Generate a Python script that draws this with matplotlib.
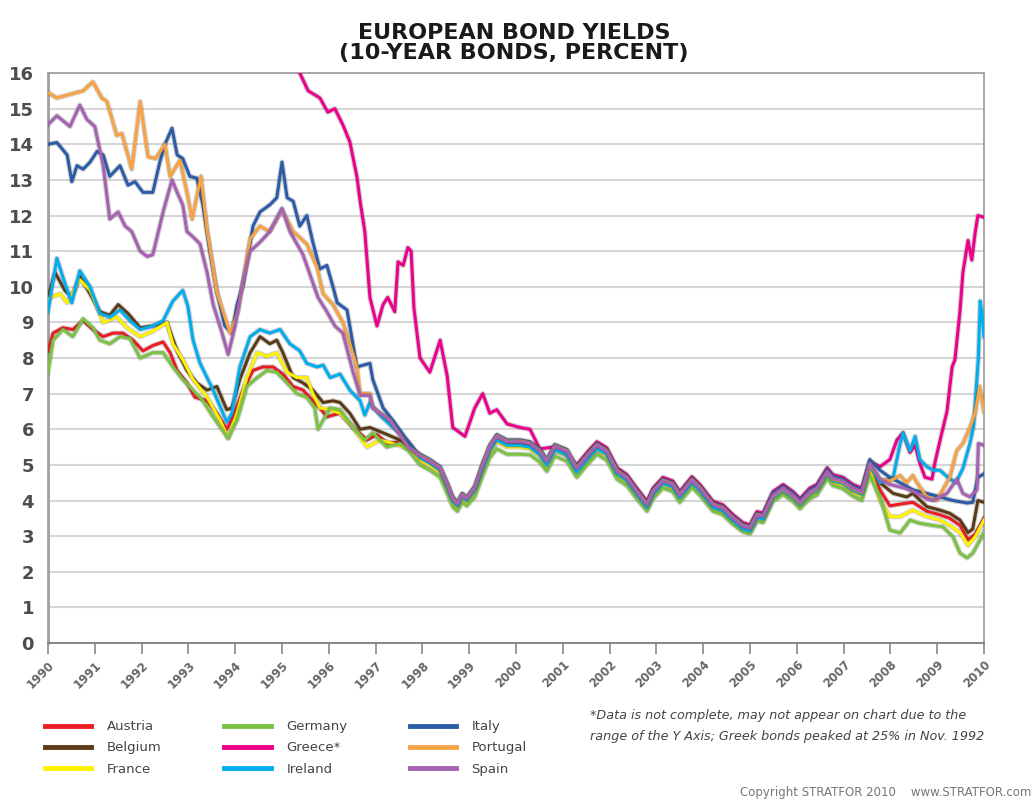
import matplotlib
matplotlib.use("Agg")
import matplotlib.pyplot as plt
import matplotlib.patheffects as pe
from matplotlib.lines import Line2D

# shared time points for the converged euro period (1998-2007)
BUNDLE_YEARS = [1997.95, 1998.16, 1998.38, 1998.53, 1998.65, 1998.75, 1998.85, 1998.95,
                1999.12, 1999.29, 1999.44, 1999.59, 1999.81, 2000.09, 2000.30, 2000.51,
                2000.66, 2000.83, 2001.09, 2001.30, 2001.52, 2001.73, 2001.94, 2002.16,
                2002.37, 2002.58, 2002.80, 2002.93, 2003.14, 2003.35, 2003.50, 2003.76,
                2003.93, 2004.21, 2004.42, 2004.64, 2004.85, 2005.00, 2005.15, 2005.28,
                2005.49, 2005.71, 2005.92, 2006.07, 2006.28, 2006.43, 2006.65, 2006.77,
                2006.99, 2007.20, 2007.39, 2007.56]

AUSTRIA_EARLY = [(1990.00, 8.2), (1990.11, 8.7), (1990.32, 8.85), (1990.53, 8.8), (1990.75, 9.05),
                 (1990.96, 8.8), (1991.18, 8.6), (1991.39, 8.7), (1991.60, 8.7), (1991.82, 8.5),
                 (1992.03, 8.2), (1992.24, 8.35), (1992.46, 8.45), (1992.61, 8.15), (1992.76, 7.65),
                 (1992.97, 7.3), (1993.14, 6.9), (1993.40, 6.8), (1993.61, 6.45), (1993.82, 6.0),
                 (1993.95, 6.35), (1994.17, 7.1), (1994.38, 7.65), (1994.59, 7.75), (1994.81, 7.75),
                 (1995.02, 7.55), (1995.24, 7.2), (1995.45, 7.1), (1995.66, 6.8), (1995.81, 6.6),
                 (1995.96, 6.35), (1996.24, 6.45), (1996.52, 6.05), (1996.82, 5.7), (1997.03, 5.85),
                 (1997.26, 5.6), (1997.52, 5.65), (1997.70, 5.5)]
AUSTRIA_MID = [5.15, 5.0, 4.8, 4.35, 3.95, 3.8, 4.05, 3.95, 4.25, 4.9, 5.4, 5.7, 5.55, 5.55, 5.5,
               5.3, 5.02, 5.43, 5.3, 4.82, 5.15, 5.45, 5.3, 4.74, 4.55, 4.17, 3.8, 4.17, 4.47, 4.37,
               4.07, 4.49, 4.27, 3.8, 3.7, 3.42, 3.2, 3.14, 3.51, 3.47, 4.07, 4.27, 4.07, 3.87, 4.17,
               4.27, 4.74, 4.55, 4.47, 4.27, 4.17, 4.95]
AUSTRIA_LATE = [(2007.78, 4.3), (2007.99, 3.85), (2008.21, 3.9), (2008.48, 3.95), (2008.78, 3.7),
                (2009.06, 3.6), (2009.27, 3.5), (2009.49, 3.3), (2009.66, 2.9), (2009.81, 3.05),
                (2010.00, 3.5)]

BELGIUM_EARLY = [(1990.00, 9.7), (1990.15, 10.4), (1990.36, 9.9), (1990.51, 9.7), (1990.68, 10.3),
                 (1990.90, 9.8), (1991.11, 9.3), (1991.32, 9.2), (1991.50, 9.5), (1991.71, 9.25),
                 (1991.97, 8.85), (1992.24, 8.9), (1992.54, 9.0), (1992.76, 8.2), (1992.97, 7.65),
                 (1993.18, 7.3), (1993.40, 7.1), (1993.61, 7.2), (1993.82, 6.55), (1993.93, 6.6),
                 (1994.10, 7.4), (1994.32, 8.15), (1994.53, 8.6), (1994.74, 8.4), (1994.89, 8.5),
                 (1995.02, 8.15), (1995.24, 7.45), (1995.45, 7.3), (1995.66, 7.1), (1995.88, 6.75),
                 (1996.09, 6.8), (1996.24, 6.75), (1996.45, 6.45), (1996.67, 6.0), (1996.88, 6.05),
                 (1997.16, 5.9), (1997.52, 5.7), (1997.70, 5.6)]
BELGIUM_MID = [5.22, 5.07, 4.87, 4.42, 4.02, 3.87, 4.12, 4.02, 4.32, 4.97, 5.47, 5.77, 5.62, 5.62,
               5.57, 5.35, 5.07, 5.49, 5.35, 4.87, 5.22, 5.52, 5.35, 4.79, 4.6, 4.22, 3.85, 4.22,
               4.52, 4.42, 4.12, 4.54, 4.32, 3.85, 3.75, 3.47, 3.25, 3.19, 3.56, 3.52, 4.12, 4.32,
               4.12, 3.92, 4.22, 4.32, 4.79, 4.6, 4.52, 4.32, 4.22, 5.0]
BELGIUM_LATE = [(2007.78, 4.5), (2008.06, 4.2), (2008.35, 4.1), (2008.48, 4.2), (2008.78, 3.83),
                (2009.06, 3.73), (2009.27, 3.64), (2009.49, 3.45), (2009.66, 3.1), (2009.76, 3.2),
                (2009.87, 4.0), (2010.00, 3.95)]

FRANCE_EARLY = [(1990.00, 9.5), (1990.04, 9.7), (1990.26, 9.8), (1990.41, 9.55), (1990.68, 10.2),
                (1990.90, 9.9), (1991.18, 9.0), (1991.47, 9.15), (1991.69, 8.85), (1991.97, 8.6),
                (1992.24, 8.75), (1992.54, 9.0), (1992.67, 8.4), (1992.88, 7.95), (1993.10, 7.4),
                (1993.40, 6.9), (1993.68, 6.25), (1993.85, 5.75), (1994.04, 6.45), (1994.25, 7.45),
                (1994.47, 8.15), (1994.68, 8.05), (1994.89, 8.15), (1995.11, 7.6), (1995.32, 7.45),
                (1995.53, 7.45), (1995.66, 7.0), (1995.81, 6.6), (1996.03, 6.55), (1996.24, 6.45),
                (1996.52, 6.05), (1996.82, 5.5), (1997.09, 5.7), (1997.37, 5.6), (1997.70, 5.45)]
FRANCE_MID = [5.13, 4.98, 4.78, 4.33, 3.93, 3.78, 4.03, 3.93, 4.23, 4.85, 5.35, 5.65, 5.5, 5.5,
              5.45, 5.25, 4.98, 5.4, 5.26, 4.78, 5.13, 5.43, 5.26, 4.7, 4.51, 4.13, 3.76, 4.13,
              4.43, 4.33, 4.03, 4.45, 4.23, 3.76, 3.66, 3.38, 3.16, 3.1, 3.47, 3.43, 4.03, 4.23,
              4.03, 3.83, 4.13, 4.23, 4.7, 4.51, 4.43, 4.23, 4.13, 4.9]
FRANCE_LATE = [(2007.78, 4.0), (2007.99, 3.55), (2008.21, 3.55), (2008.48, 3.73), (2008.78, 3.55),
               (2009.06, 3.45), (2009.27, 3.3), (2009.49, 3.1), (2009.66, 2.75), (2009.81, 2.98),
               (2010.00, 3.45)]

GERMANY_EARLY = [(1990.00, 7.6), (1990.11, 8.5), (1990.32, 8.8), (1990.53, 8.6), (1990.75, 9.1),
                 (1990.96, 8.85), (1991.11, 8.5), (1991.32, 8.4), (1991.54, 8.6), (1991.75, 8.55),
                 (1991.97, 8.0), (1992.24, 8.15), (1992.46, 8.15), (1992.67, 7.75), (1992.88, 7.4),
                 (1993.10, 7.1), (1993.31, 6.8), (1993.53, 6.35), (1993.74, 5.95), (1993.85, 5.75),
                 (1994.04, 6.25), (1994.25, 7.2), (1994.47, 7.45), (1994.68, 7.65), (1994.89, 7.6),
                 (1995.11, 7.3), (1995.32, 7.0), (1995.53, 6.9), (1995.70, 6.6), (1995.77, 6.0),
                 (1996.03, 6.6), (1996.24, 6.55), (1996.52, 6.05), (1996.77, 5.7), (1996.94, 5.9),
                 (1997.24, 5.5), (1997.52, 5.6), (1997.70, 5.4)]
GERMANY_MID = [5.0, 4.85, 4.65, 4.2, 3.82, 3.7, 3.95, 3.85, 4.1, 4.7, 5.2, 5.45, 5.3, 5.3, 5.28,
               5.08, 4.82, 5.25, 5.1, 4.65, 5.0, 5.3, 5.13, 4.6, 4.42, 4.05, 3.7, 4.05, 4.35, 4.25,
               3.95, 4.37, 4.15, 3.7, 3.6, 3.33, 3.12, 3.07, 3.42, 3.38, 3.97, 4.17, 3.97, 3.77,
               4.05, 4.15, 4.62, 4.42, 4.33, 4.12, 4.0, 4.7]
GERMANY_LATE = [(2007.78, 4.1), (2007.99, 3.17), (2008.21, 3.09), (2008.42, 3.45), (2008.63, 3.36),
                (2008.91, 3.3), (2009.12, 3.26), (2009.34, 2.98), (2009.49, 2.52), (2009.64, 2.39),
                (2009.76, 2.52), (2010.00, 3.1)]

# Greece is above the axis range before mid-1995
GREECE_EARLY = [(1995.25, 16.6), (1995.38, 16.0), (1995.56, 15.5), (1995.81, 15.3), (1995.98, 14.9),
                (1996.13, 15.0), (1996.30, 14.55), (1996.45, 14.07), (1996.60, 13.1), (1996.67, 12.4),
                (1996.77, 11.55), (1996.88, 9.7), (1997.03, 8.9), (1997.16, 9.5), (1997.26, 9.7),
                (1997.41, 9.3), (1997.48, 10.7), (1997.59, 10.6), (1997.69, 11.1), (1997.76, 11.0),
                (1997.82, 9.4), (1997.95, 8.0), (1998.16, 7.6), (1998.38, 8.5), (1998.53, 7.5),
                (1998.65, 6.05), (1998.91, 5.8), (1999.12, 6.6), (1999.29, 7.0), (1999.44, 6.45),
                (1999.59, 6.55), (1999.81, 6.15), (2000.09, 6.05), (2000.30, 6.0), (2000.51, 5.45),
                (2000.79, 5.5), (2000.98, 5.4)]
GREECE_MID = [5.0, 5.35, 5.65, 5.48, 4.92, 4.73, 4.35, 3.98, 4.35, 4.65, 4.55, 4.25, 4.67, 4.45,
              3.98, 3.88, 3.6, 3.38, 3.32, 3.69, 3.65, 4.25, 4.45, 4.25, 4.05, 4.35, 4.45, 4.92,
              4.73, 4.65, 4.45, 4.35, 5.1]
GREECE_LATE = [(2007.78, 4.95), (2007.99, 5.15), (2008.14, 5.7), (2008.27, 5.9), (2008.42, 5.35),
               (2008.53, 5.55), (2008.63, 5.05), (2008.74, 4.65), (2008.89, 4.6), (2008.95, 5.05),
               (2009.10, 5.9), (2009.21, 6.5), (2009.32, 7.75), (2009.38, 7.95), (2009.49, 9.35),
               (2009.55, 10.4), (2009.66, 11.3), (2009.74, 10.75), (2009.81, 11.5), (2009.87, 12.0),
               (2010.00, 11.95)]

IRELAND_EARLY = [(1990.00, 9.3), (1990.19, 10.8), (1990.36, 10.1), (1990.51, 9.55), (1990.68, 10.45),
                 (1990.90, 10.0), (1991.11, 9.25), (1991.32, 9.15), (1991.54, 9.35), (1991.75, 9.05),
                 (1991.97, 8.8), (1992.24, 8.9), (1992.46, 9.05), (1992.67, 9.6), (1992.88, 9.9),
                 (1992.99, 9.45), (1993.10, 8.5), (1993.25, 7.85), (1993.53, 7.1), (1993.82, 6.2),
                 (1993.93, 6.45), (1994.10, 7.75), (1994.32, 8.6), (1994.53, 8.8), (1994.74, 8.7),
                 (1994.96, 8.8), (1995.17, 8.4), (1995.38, 8.2), (1995.53, 7.85), (1995.75, 7.75),
                 (1995.88, 7.8), (1996.03, 7.45), (1996.24, 7.55), (1996.45, 7.1), (1996.67, 6.8),
                 (1996.77, 6.4), (1996.88, 6.75), (1997.09, 6.4), (1997.37, 6.05), (1997.70, 5.65)]
IRELAND_MID = [5.2, 5.05, 4.85, 4.4, 4.0, 3.85, 4.1, 4.0, 4.3, 4.9, 5.4, 5.7, 5.55, 5.55, 5.5,
               5.28, 5.0, 5.42, 5.28, 4.8, 5.15, 5.45, 5.3, 4.75, 4.56, 4.18, 3.81, 4.18, 4.48,
               4.38, 4.08, 4.5, 4.28, 3.81, 3.71, 3.43, 3.2, 3.15, 3.52, 3.48, 4.08, 4.28, 4.08,
               3.88, 4.18, 4.28, 4.75, 4.56, 4.48, 4.28, 4.18, 4.98]
IRELAND_LATE = [(2007.78, 4.5), (2008.06, 4.65), (2008.21, 5.6), (2008.27, 5.9), (2008.42, 5.4),
                (2008.53, 5.8), (2008.63, 5.15), (2008.78, 4.95), (2008.91, 4.85), (2009.06, 4.85),
                (2009.23, 4.65), (2009.40, 4.5), (2009.55, 4.9), (2009.70, 5.6), (2009.78, 6.1),
                (2009.88, 8.0), (2009.92, 9.6), (2009.96, 9.2), (2010.00, 8.6)]

ITALY_EARLY = [(1990.00, 14.0), (1990.19, 14.05), (1990.41, 13.7), (1990.51, 12.95), (1990.62, 13.4),
               (1990.75, 13.3), (1990.90, 13.5), (1991.05, 13.8), (1991.18, 13.7), (1991.32, 13.1),
               (1991.54, 13.4), (1991.71, 12.85), (1991.86, 12.95), (1992.03, 12.65), (1992.24, 12.65),
               (1992.39, 13.5), (1992.50, 14.0), (1992.65, 14.45), (1992.76, 13.7), (1992.88, 13.6),
               (1993.03, 13.1), (1993.18, 13.05), (1993.31, 12.3), (1993.46, 11.0), (1993.61, 9.85),
               (1993.78, 8.9), (1993.93, 8.7), (1994.04, 9.5), (1994.17, 10.05), (1994.38, 11.7),
               (1994.53, 12.1), (1994.74, 12.3), (1994.89, 12.5), (1995.00, 13.5), (1995.11, 12.5),
               (1995.24, 12.4), (1995.38, 11.7), (1995.53, 12.0), (1995.66, 11.25), (1995.81, 10.5),
               (1995.96, 10.6), (1996.09, 10.0), (1996.18, 9.55), (1996.39, 9.35), (1996.60, 7.75),
               (1996.88, 7.85), (1996.94, 7.4), (1997.16, 6.6), (1997.37, 6.25), (1997.67, 5.7),
               (1997.85, 5.4)]
ITALY_MID = [5.3, 5.15, 4.95, 4.5, 4.1, 3.95, 4.2, 4.1, 4.4, 5.05, 5.55, 5.85, 5.7, 5.7, 5.65,
             5.45, 5.15, 5.57, 5.43, 4.95, 5.3, 5.6, 5.43, 4.87, 4.68, 4.3, 3.93, 4.3, 4.6, 4.5,
             4.2, 4.62, 4.4, 3.93, 3.83, 3.55, 3.33, 3.27, 3.64, 3.6, 4.2, 4.4, 4.2, 4.0, 4.3,
             4.4, 4.87, 4.68, 4.6, 4.4, 4.3, 5.15]
ITALY_LATE = [(2007.78, 4.85), (2007.99, 4.65), (2008.21, 4.5), (2008.48, 4.3), (2008.78, 4.2),
              (2009.06, 4.1), (2009.34, 4.0), (2009.64, 3.93), (2009.76, 3.95), (2009.87, 4.65),
              (2010.00, 4.75)]

PORTUGAL_EARLY = [(1990.00, 15.45), (1990.19, 15.3), (1990.47, 15.4), (1990.75, 15.5), (1990.96, 15.75),
                  (1991.15, 15.3), (1991.26, 15.2), (1991.47, 14.25), (1991.58, 14.3), (1991.79, 13.3),
                  (1991.97, 15.2), (1992.14, 13.65), (1992.30, 13.6), (1992.50, 14.0), (1992.61, 13.1),
                  (1992.82, 13.55), (1992.97, 12.65), (1993.08, 11.9), (1993.27, 13.1), (1993.40, 11.6),
                  (1993.61, 9.85), (1993.89, 8.7), (1994.06, 9.3), (1994.32, 11.35), (1994.53, 11.7),
                  (1994.74, 11.55), (1995.00, 12.15), (1995.24, 11.55), (1995.53, 11.2), (1995.75, 10.55),
                  (1995.88, 9.8), (1996.09, 9.5), (1996.30, 9.0), (1996.45, 8.4), (1996.60, 7.75),
                  (1996.67, 7.0), (1996.88, 7.0), (1996.94, 6.6), (1997.31, 6.26), (1997.70, 5.5)]
PORTUGAL_MID = [5.27, 5.12, 4.92, 4.47, 4.07, 3.92, 4.17, 4.07, 4.37, 5.02, 5.52, 5.82, 5.67, 5.67,
                5.62, 5.4, 5.12, 5.54, 5.4, 4.92, 5.27, 5.57, 5.4, 4.84, 4.65, 4.27, 3.9, 4.27,
                4.57, 4.47, 4.17, 4.59, 4.37, 3.9, 3.8, 3.52, 3.3, 3.24, 3.61, 3.57, 4.12, 4.32,
                4.12, 3.92, 4.22, 4.32, 4.79, 4.6, 4.52, 4.32, 4.22, 5.0]
PORTUGAL_LATE = [(2007.78, 4.6), (2007.99, 4.55), (2008.21, 4.7), (2008.35, 4.5), (2008.48, 4.7),
                 (2008.57, 4.5), (2008.78, 4.1), (2008.99, 4.0), (2009.12, 4.3), (2009.27, 4.65),
                 (2009.42, 5.4), (2009.55, 5.6), (2009.70, 6.05), (2009.81, 6.45), (2009.91, 7.2),
                 (2010.00, 6.5)]

SPAIN_EARLY = [(1990.00, 14.55), (1990.19, 14.8), (1990.47, 14.5), (1990.68, 15.1), (1990.83, 14.7),
               (1991.00, 14.5), (1991.18, 13.4), (1991.32, 11.9), (1991.50, 12.1), (1991.65, 11.7),
               (1991.79, 11.55), (1991.97, 11.0), (1992.12, 10.85), (1992.24, 10.9), (1992.46, 12.1),
               (1992.65, 13.0), (1992.76, 12.65), (1992.88, 12.3), (1992.97, 11.55), (1993.10, 11.4),
               (1993.25, 11.2), (1993.40, 10.4), (1993.53, 9.5), (1993.72, 8.7), (1993.85, 8.1),
               (1994.00, 8.9), (1994.15, 10.05), (1994.32, 11.0), (1994.53, 11.25), (1994.74, 11.55),
               (1995.00, 12.2), (1995.17, 11.55), (1995.45, 10.9), (1995.77, 9.7), (1995.96, 9.3),
               (1996.13, 8.9), (1996.30, 8.7), (1996.52, 7.6), (1996.67, 6.95), (1996.88, 6.95),
               (1996.94, 6.6), (1997.31, 6.25), (1997.70, 5.5)]
SPAIN_MID = [5.25, 5.1, 4.9, 4.45, 4.05, 3.9, 4.15, 4.05, 4.35, 5.0, 5.5, 5.8, 5.65, 5.65, 5.6,
             5.38, 5.1, 5.52, 5.38, 4.9, 5.25, 5.55, 5.38, 4.82, 4.63, 4.25, 3.88, 4.25, 4.55,
             4.45, 4.15, 4.57, 4.35, 3.88, 3.78, 3.5, 3.28, 3.22, 3.59, 3.55, 4.15, 4.35, 4.15,
             3.95, 4.25, 4.35, 4.82, 4.63, 4.55, 4.35, 4.25, 5.05]
SPAIN_LATE = [(2007.78, 4.6), (2007.99, 4.45), (2008.30, 4.35), (2008.50, 4.25), (2008.78, 4.05),
              (2008.91, 4.0), (2009.21, 4.2), (2009.42, 4.6), (2009.55, 4.2), (2009.70, 4.1),
              (2009.85, 4.3), (2009.88, 5.6), (2010.00, 5.55)]

COUNTRIES = ["Austria", "Belgium", "France", "Germany", "Greece*", "Ireland", "Italy", "Portugal", "Spain"]
COLORS = ["#ec1c24", "#5b3b17", "#fff200", "#7cc242", "#ec008c", "#00aeef", "#2b5ca8", "#f7a243", "#a661b3"]
SERIES = [
    (AUSTRIA_EARLY, AUSTRIA_MID, AUSTRIA_LATE),
    (BELGIUM_EARLY, BELGIUM_MID, BELGIUM_LATE),
    (FRANCE_EARLY, FRANCE_MID, FRANCE_LATE),
    (GERMANY_EARLY, GERMANY_MID, GERMANY_LATE),
    (GREECE_EARLY, GREECE_MID, GREECE_LATE),
    (IRELAND_EARLY, IRELAND_MID, IRELAND_LATE),
    (ITALY_EARLY, ITALY_MID, ITALY_LATE),
    (PORTUGAL_EARLY, PORTUGAL_MID, PORTUGAL_LATE),
    (SPAIN_EARLY, SPAIN_MID, SPAIN_LATE),
]
YEARS = list(range(1990, 2011))

fig = plt.figure(figsize=(10.34, 8.06), dpi=100)
ax = fig.add_axes([0.0464, 0.2022, 0.9052, 0.7072])

shadow = [pe.withStroke(linewidth=3.8, foreground=(0.3, 0.3, 0.3, 0.25))]
for (early, mid, late), color in zip(SERIES, COLORS):
    mid_years = BUNDLE_YEARS[len(BUNDLE_YEARS) - len(mid):]
    xs = [t for t, _ in early] + mid_years + [t for t, _ in late]
    ys = [v for _, v in early] + mid + [v for _, v in late]
    ax.plot(xs, ys, color=color, lw=2.2, solid_joinstyle="round", path_effects=shadow, zorder=3)

ax.set_xlim(1990, 2010)
ax.set_ylim(0, 16)
ax.set_yticks(range(0, 17))
ax.set_xticks(YEARS)
ax.set_xticklabels([str(y) for y in YEARS], rotation=45, ha="right", rotation_mode="anchor",
                   fontsize=8.5, color="#666666", fontweight="bold")
ax.tick_params(axis="x", direction="out", length=8, width=1.2, color="#888888", pad=3)
ax.tick_params(axis="y", length=0, pad=10, labelsize=13, labelcolor="#4d4d4d")
for lab in ax.get_yticklabels():
    lab.set_fontweight("bold")
ax.grid(axis="y", color="#d6d6d6", lw=1.5, zorder=0)
for side in ["top", "right"]:
    ax.spines[side].set_color("#9a9a9a")
    ax.spines[side].set_linewidth(1.2)
ax.spines["left"].set_color("#a0a0a0")
ax.spines["left"].set_linewidth(2.0)
ax.spines["bottom"].set_color("#808080")
ax.spines["bottom"].set_linewidth(1.3)

fig.text(0.497, 0.972, "EUROPEAN BOND YIELDS\n(10-YEAR BONDS, PERCENT)", ha="center", va="top",
         fontsize=16, fontweight="bold", color="#1a1a1a", linespacing=1.05)

handles = [Line2D([], [], color=c, lw=3.5) for c in COLORS]
legend_x = [0.038, 0.212, 0.391]
for col, x in enumerate(legend_x):
    leg = fig.legend(handles[col * 3:col * 3 + 3], COUNTRIES[col * 3:col * 3 + 3],
                     loc="upper left", bbox_to_anchor=(x, 0.113), frameon=False,
                     fontsize=9.5, handlelength=3.5, handletextpad=1.2, labelspacing=0.62,
                     borderaxespad=0, labelcolor="#444444")

fig.text(0.571, 0.099, "*Data is not complete, may not appear on chart due to the\n"
         "range of the Y Axis; Greek bonds peaked at 25% in Nov. 1992",
         ha="left", va="center", fontsize=9.2, style="italic", color="#444444", linespacing=1.75)
fig.text(0.997, 0.009, "Copyright STRATFOR 2010    www.STRATFOR.com", ha="right", va="bottom",
         fontsize=8.5, color="#777777")

fig.savefig("out.png", dpi=100)
